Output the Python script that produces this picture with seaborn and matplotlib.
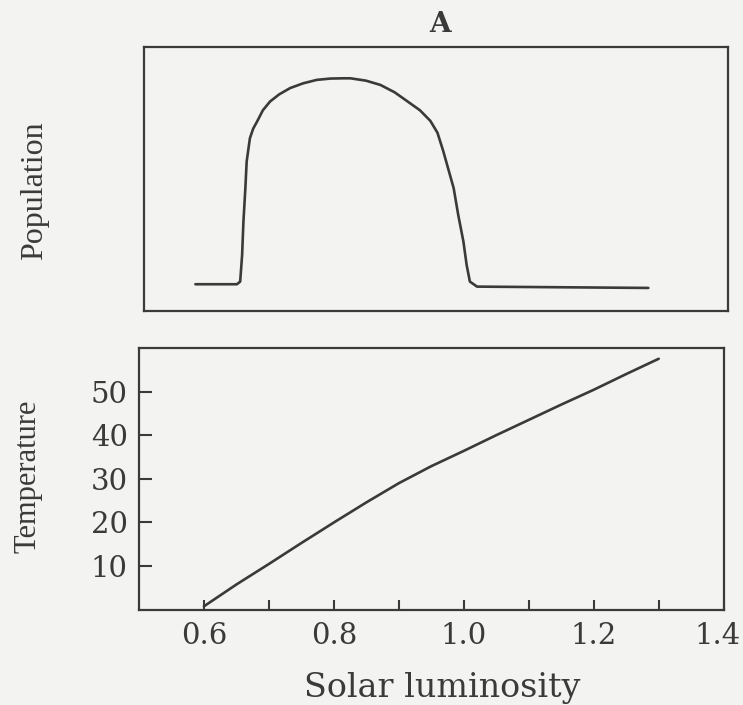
# Libs necessárias
import matplotlib
matplotlib.use("Agg")
import pandas as pd
import matplotlib.pyplot as plt
import matplotlib.transforms as mtransforms
import seaborn as sns

# Dados (painel A)

# Painel de cima: população x luminosidade solar
Lum_Pop = [0.579, 0.643, 0.648, 0.651, 0.653, 0.656, 0.658, 0.663, 0.668,
           0.674, 0.683, 0.694, 0.708, 0.725, 0.745, 0.766, 0.787, 0.807,
           0.818, 0.842, 0.864, 0.886, 0.905, 0.925, 0.941, 0.952, 0.961,
           0.969, 0.977, 0.984, 0.992, 0.997, 1.002, 1.013, 1.277]
Populacao = [0.101, 0.101, 0.111, 0.212, 0.338, 0.465, 0.566, 0.654, 0.690,
             0.717, 0.760, 0.793, 0.820, 0.844, 0.862, 0.875, 0.880, 0.881,
             0.881, 0.872, 0.856, 0.828, 0.795, 0.760, 0.720, 0.675, 0.605,
             0.535, 0.465, 0.364, 0.263, 0.174, 0.111, 0.092, 0.087]

# Painel de baixo: temperatura x luminosidade solar
Lum_Temp = [0.6, 0.65, 0.7, 0.75, 0.8, 0.85, 0.9, 0.95, 1.0, 1.05, 1.1,
            1.15, 1.2, 1.25, 1.3]
Temperatura = [0.8, 5.8, 10.5, 15.3, 20.0, 24.6, 29.0, 32.9, 36.4, 40.0,
               43.5, 47.0, 50.4, 54.0, 57.5]

# Ticks
Ticks_X = [0.6, 0.8, 1.0, 1.2, 1.4]
Ticks_X_Menores = [0.7, 0.9, 1.1, 1.3]
Ticks_Y = [10, 20, 30, 40, 50]

Base_Pop = pd.DataFrame({"Luminosidade": Lum_Pop, "Populacao": Populacao})
Base_Temp = pd.DataFrame({"Luminosidade": Lum_Temp, "Temperatura": Temperatura})

# Estilo
sns.set_style("ticks")
plt.rcParams["font.family"] = ["DejaVu Serif"]

Cor_Tinta = "#3a3a3a"
Cor_Papel = "#f3f3f1"

fig = plt.figure(figsize=(7.43, 7.05), dpi=100, facecolor=Cor_Papel)

# Eixos
ax1 = fig.add_axes([0.194, 0.559, 0.786, 0.3745])
ax2 = fig.add_axes([0.187, 0.135, 0.787, 0.3716])

for ax in (ax1, ax2):
    ax.set_facecolor(Cor_Papel)
    for lado in ax.spines.values():
        lado.set_color(Cor_Tinta)
        lado.set_linewidth(1.6)

# Grafico de cima
sns.lineplot(data=Base_Pop, x="Luminosidade", y="Populacao", ax=ax1,
             color=Cor_Tinta, lw=1.9, sort=False, estimator=None)
ax1.set_xlim(0.5, 1.4)
ax1.set_ylim(0, 1)
ax1.set_xticks([])
ax1.set_yticks([])
ax1.set_xlabel("")
ax1.set_ylabel("")

# Grafico de baixo
sns.lineplot(data=Base_Temp, x="Luminosidade", y="Temperatura", ax=ax2,
             color=Cor_Tinta, lw=1.9, sort=False, estimator=None)
ax2.set_xlim(0.5, 1.4)
ax2.set_ylim(0, 60)
ax2.set_xticks(Ticks_X)
ax2.set_xticklabels([f"{v:.1f}" for v in Ticks_X])
ax2.set_xticks(Ticks_X_Menores, minor=True)
ax2.set_yticks(Ticks_Y)
ax2.set_xlabel("")
ax2.set_ylabel("")
ax2.tick_params(axis="x", which="both", direction="in", length=7, width=1.5,
                color=Cor_Tinta, labelsize=21, labelcolor=Cor_Tinta, pad=9)
ax2.tick_params(axis="y", direction="in", length=9, width=1.5,
                color=Cor_Tinta, labelsize=21, labelcolor=Cor_Tinta, pad=8)

# Ultimo rotulo (1.4) puxado um pouco para dentro da figura
Ultimo = ax2.get_xticklabels()[-1]
Ultimo.set_transform(Ultimo.get_transform()
                     + mtransforms.ScaledTranslation(-6 / 100, 0, fig.dpi_scale_trans))

# Textos
fig.text(0.592, 0.965, "A", ha="center", va="center", fontsize=20,
         fontweight="bold", color=Cor_Tinta)
fig.text(0.047, 0.730, "Population", ha="center", va="center", rotation=90,
         fontsize=23, color=Cor_Tinta, family=["Liberation Serif"])
fig.text(0.038, 0.325, "Temperature", ha="center", va="center", rotation=90,
         fontsize=22, color=Cor_Tinta, family=["Liberation Serif"])
fig.text(0.595, 0.024, "Solar luminosity", ha="center", va="center",
         fontsize=24, color=Cor_Tinta)

fig.savefig("out.png", dpi=100, facecolor=Cor_Papel)
